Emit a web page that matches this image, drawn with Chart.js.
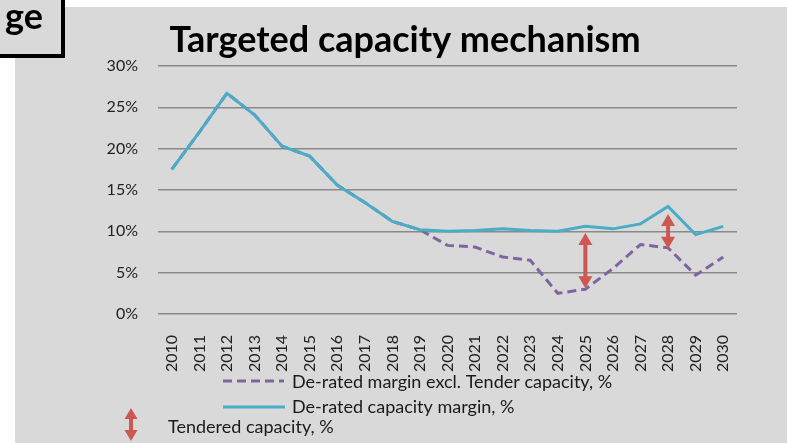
<!DOCTYPE html>
<html>
<head>
<meta charset="utf-8">
<script src="https://cdn.jsdelivr.net/npm/chart.js@4"></script>
<style>
  html, body { margin: 0; padding: 0; background: #fff; }
  #wrap { position: relative; width: 787px; height: 443px; }
</style>
</head>
<body>
<div id="wrap"><canvas id="capChart" width="787" height="443"></canvas></div>
<script>
const years = ['2010', '2011', '2012', '2013', '2014', '2015', '2016', '2017', '2018', '2019', '2020',
               '2021', '2022', '2023', '2024', '2025', '2026', '2027', '2028', '2029', '2030'];
const capacityMargin =   [17.5, 22.0, 26.7, 24.1, 20.3, 19.1, 15.6, 13.5, 11.2, 10.2, 10.0,
                          10.1, 10.3, 10.1, 10.0, 10.6, 10.3, 10.9, 13.0, 9.6, 10.6];
const marginExclTender = [17.5, 22.0, 26.7, 24.1, 20.3, 19.1, 15.6, 13.5, 11.2, 10.2, 8.3,
                          8.1, 6.9, 6.5, 2.5, 3.0, 5.5, 8.4, 8.0, 4.7, 6.9];
// tendered capacity arrows
const arrowYears = ['2025', '2028'];
const arrowLow =   [3.1, 7.9];
const arrowHigh =  [9.8, 12.1];

const yTicks = [0, 5, 10, 15, 20, 25, 30];

const BLUE = '#4bacc6';
const PURPLE = '#8064a2';
const RED = '#cd5752';
const FONT = 'Lato, "Open Sans", sans-serif';

function drawArrow(ctx, x, yTop, yBot, headW, headL, shaft) {
    ctx.save();
    ctx.fillStyle = RED;
    ctx.fillRect(x - shaft / 2, yTop + headL - 1, shaft, yBot - yTop - 2 * headL + 2);
    ctx.beginPath();
    ctx.moveTo(x, yTop);
    ctx.lineTo(x - headW / 2, yTop + headL);
    ctx.lineTo(x + headW / 2, yTop + headL);
    ctx.closePath();
    ctx.fill();
    ctx.beginPath();
    ctx.moveTo(x, yBot);
    ctx.lineTo(x - headW / 2, yBot - headL);
    ctx.lineTo(x + headW / 2, yBot - headL);
    ctx.closePath();
    ctx.fill();
    ctx.restore();
}

const backdrop = {
    id: 'backdrop',
    beforeDraw(chart) {
        const ctx = chart.ctx;
        ctx.save();
        ctx.fillStyle = '#ffffff';
        ctx.fillRect(0, 0, chart.width, chart.height);
        ctx.fillStyle = '#d9d9d9';
        ctx.fillRect(15, 7, chart.width - 15, chart.height - 7);
        // corner box from the slide behind
        ctx.fillRect(-10, -10, 73, 66);
        ctx.lineWidth = 4;
        ctx.strokeStyle = '#000';
        ctx.strokeRect(-10, -10, 73, 66);
        ctx.fillStyle = '#000';
        ctx.font = 'bold 36px ' + FONT;
        ctx.textBaseline = 'alphabetic';
        ctx.textAlign = 'right';
        ctx.fillText('ge', 43, 29);
        ctx.restore();
    }
};

const extras = {
    id: 'extras',
    afterDatasetsDraw(chart) {
        const ctx = chart.ctx;
        const xs = chart.scales.x, ys = chart.scales.y;
        for (let i = 0; i < arrowYears.length; i++) {
            const x = xs.getPixelForValue(years.indexOf(arrowYears[i]));
            drawArrow(ctx, x, ys.getPixelForValue(arrowHigh[i]), ys.getPixelForValue(arrowLow[i]), 14, 12, 4);
        }
    },
    afterDraw(chart) {
        const ctx = chart.ctx;
        ctx.save();
        // title
        ctx.fillStyle = '#000';
        ctx.font = 'bold 36px ' + FONT;
        ctx.textAlign = 'center';
        ctx.textBaseline = 'alphabetic';
        ctx.fillText('Targeted capacity mechanism', 405, 52);

        // legend
        ctx.font = '18px ' + FONT;
        ctx.textAlign = 'left';
        ctx.textBaseline = 'middle';
        ctx.fillStyle = '#1a1a1a';
        ctx.lineWidth = 3;
        ctx.strokeStyle = PURPLE;
        ctx.setLineDash([9, 5]);
        ctx.beginPath();
        ctx.moveTo(223, 381);
        ctx.lineTo(284, 381);
        ctx.stroke();
        ctx.fillText(chart.data.datasets[1].label, 292, 382);
        ctx.setLineDash([]);
        ctx.strokeStyle = BLUE;
        ctx.beginPath();
        ctx.moveTo(223, 407);
        ctx.lineTo(285, 407);
        ctx.stroke();
        ctx.fillText(chart.data.datasets[0].label, 292, 407);
        drawArrow(ctx, 131, 408, 441, 13, 11, 4);
        ctx.fillText('Tendered capacity, %', 168, 427);
        ctx.restore();
    }
};

new Chart(document.getElementById('capChart'), {
    type: 'line',
    data: {
        labels: years,
        datasets: [
            {
                label: 'De-rated capacity margin, %',
                data: capacityMargin,
                borderColor: BLUE,
                borderWidth: 3,
                pointRadius: 0,
                tension: 0,
                fill: false
            },
            {
                label: 'De-rated margin excl. Tender capacity, %',
                data: marginExclTender,
                borderColor: PURPLE,
                borderWidth: 3,
                borderDash: [9, 5],
                pointRadius: 0,
                tension: 0,
                fill: false
            }
        ]
    },
    options: {
        responsive: false,
        animation: false,
        layout: { padding: { top: 66, right: 50, left: 0, bottom: 0 } },
        plugins: {
            legend: { display: false },
            title: { display: false },
            tooltip: { enabled: false }
        },
        scales: {
            x: {
                offset: true,
                grid: { display: false, drawTicks: false },
                border: { display: false },
                ticks: {
                    autoSkip: false,
                    minRotation: 90,
                    maxRotation: 90,
                    padding: 21,
                    color: '#222',
                    font: { family: FONT, size: 16 }
                },
                afterFit(scale) { scale.height = 129; }
            },
            y: {
                min: 0,
                max: 30,
                afterBuildTicks(scale) { scale.ticks = yTicks.map(v => ({ value: v })); },
                grid: { color: '#8a8a8a', lineWidth: 1.5, drawTicks: false },
                border: { display: false },
                ticks: {
                    padding: 20,
                    color: '#222',
                    font: { family: FONT, size: 16 },
                    callback: v => v + '%'
                },
                afterFit(scale) { scale.width = 158; }
            }
        }
    },
    plugins: [backdrop, extras]
});
</script>
</body>
</html>
